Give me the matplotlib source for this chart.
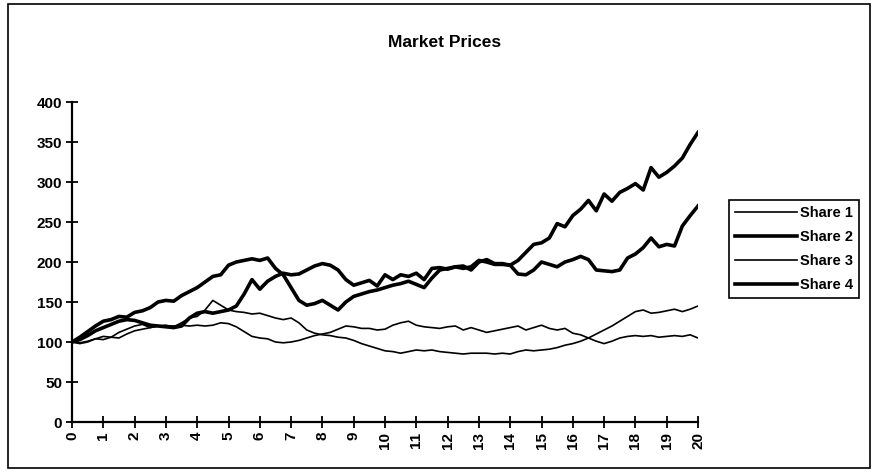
import numpy as np
import matplotlib
matplotlib.use("Agg")
import matplotlib.pyplot as plt
from matplotlib.patches import Rectangle

plt.rcParams['font.family'] = ['Liberation Sans', 'DejaVu Sans']
plt.rcParams['font.weight'] = 'bold'

# time axis: quarter steps from 0 to 20
t = np.linspace(0, 20, 81)

share1 = [100, 98, 100, 104, 103, 106, 112, 116, 120, 122, 118, 120,
          121, 119, 124, 130, 132, 140, 152, 146, 140, 138, 137, 135,
          136, 133, 130, 128, 130, 124, 115, 111, 109, 108, 106, 105,
          102, 98, 95, 92, 89, 88, 86, 88, 90, 89, 90, 88,
          87, 86, 85, 86, 86, 86, 85, 86, 85, 88, 90, 89,
          90, 91, 93, 96, 98, 101, 105, 110, 115, 120, 126, 132,
          138, 140, 136, 137, 139, 141, 138, 141, 145]
share2 = [100, 103, 108, 114, 118, 122, 126, 128, 127, 124, 121, 120,
          119, 118, 120, 130, 136, 138, 136, 138, 140, 145, 160, 178,
          166, 176, 182, 186, 184, 185, 190, 195, 198, 196, 190, 178,
          171, 174, 177, 170, 184, 178, 184, 182, 186, 178, 192, 193,
          191, 194, 195, 190, 200, 203, 198, 198, 196, 202, 212, 222,
          224, 230, 248, 244, 258, 266, 277, 264, 285, 276, 287, 292,
          298, 290, 318, 306, 312, 320, 330, 347, 362]
share3 = [100, 99, 101, 104, 107, 106, 105, 110, 114, 116, 118, 120,
          120, 120, 121, 120, 121, 120, 121, 124, 123, 119, 113, 107,
          105, 104, 100, 99, 100, 102, 105, 108, 110, 112, 116, 120,
          119, 117, 117, 115, 116, 121, 124, 126, 121, 119, 118, 117,
          119, 120, 115, 118, 115, 112, 114, 116, 118, 120, 115, 118,
          121, 117, 115, 117, 111, 109, 105, 101, 98, 101, 105, 107,
          108, 107, 108, 106, 107, 108, 107, 109, 105]
share4 = [100, 106, 113, 120, 126, 128, 132, 131, 137, 139, 143, 150,
          152, 151, 158, 163, 168, 175, 182, 184, 196, 200, 202, 204,
          202, 205, 192, 184, 168, 152, 146, 148, 152, 146, 140, 150,
          157, 160, 163, 165, 168, 171, 173, 176, 172, 168, 180, 190,
          192, 194, 192, 194, 202, 200, 197, 197, 196, 185, 184, 190,
          200, 197, 194, 200, 203, 207, 203, 190, 189, 188, 190, 205,
          210, 218, 230, 219, 222, 220, 245, 258, 270]

names = ['Share 1', 'Share 2', 'Share 3', 'Share 4']
x_ticks = list(range(0, 21))
y_ticks = list(range(0, 401, 50))

fig = plt.figure(figsize=(8.77, 4.74), dpi=100)
ax = fig.add_axes([0.0821, 0.1097, 0.7138, 0.6751])

ax.plot(t, share1, color='black', lw=1.2, label=names[0])
ax.plot(t, share2, color='black', lw=2.6, label=names[1])
ax.plot(t, share3, color='black', lw=1.2, label=names[2])
ax.plot(t, share4, color='black', lw=2.6, label=names[3])

ax.set_xlim(0, 20)
ax.set_ylim(0, 400)
ax.set_xticks(x_ticks)
ax.set_yticks(y_ticks)
ax.set_xticklabels([str(v) for v in x_ticks], rotation=90, fontsize=11, fontweight='bold')
ax.set_yticklabels([str(v) for v in y_ticks], fontsize=11, fontweight='bold')
ax.tick_params(direction='inout', length=8, width=1.3, color='black')
ax.tick_params(axis='x', pad=3)
ax.tick_params(axis='y', pad=3)

for s in ['top', 'right']:
    ax.spines[s].set_visible(False)
for s in ['left', 'bottom']:
    ax.spines[s].set_linewidth(1.6)
    ax.spines[s].set_color('black')

fig.text(0.507, 0.911, 'Market Prices', ha='center', va='center',
         fontsize=12.5, fontweight='bold')

leg = fig.legend(loc='upper left', bbox_to_anchor=(0.831, 0.578),
                 fancybox=False, edgecolor='black', framealpha=1,
                 prop={'size': 10.5, 'weight': 'bold'},
                 handlelength=4.3, handletextpad=0.2, labelspacing=0.7,
                 borderpad=0.4, borderaxespad=0)
leg.get_frame().set_linewidth(1.2)

# outer chart border
fig.patches.append(Rectangle((0.009, 0.013), 0.983, 0.979, transform=fig.transFigure,
                             fill=False, edgecolor='black', lw=1.2))

fig.savefig('out.png', dpi=100)
